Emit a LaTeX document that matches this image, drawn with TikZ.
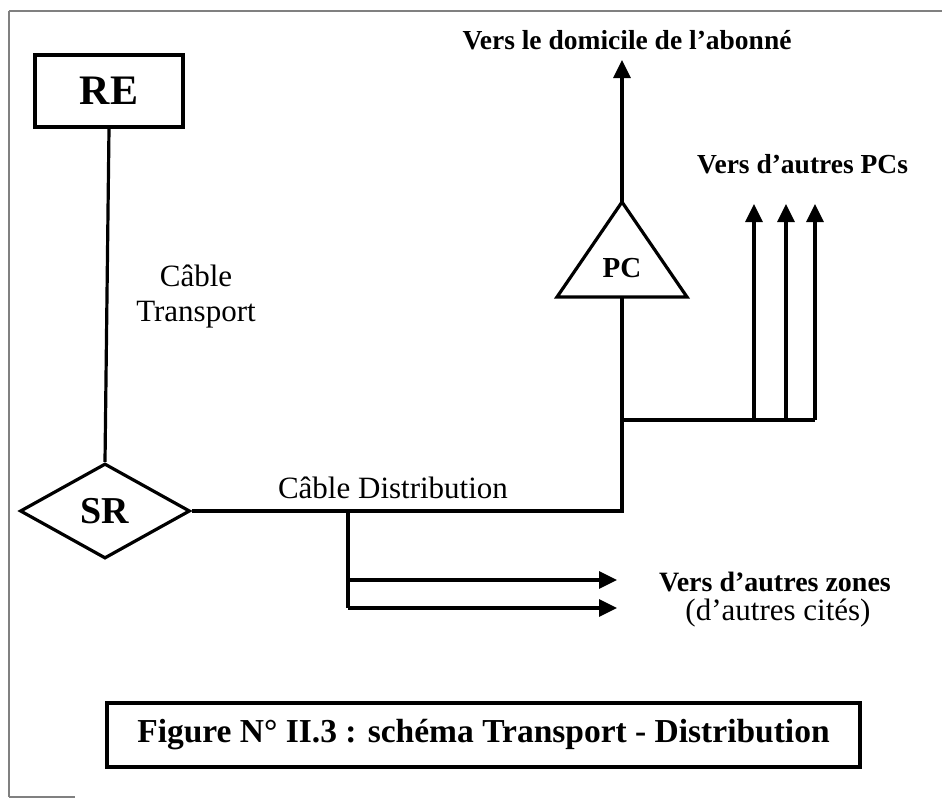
\documentclass[tikz,border=0pt]{standalone}
\usepackage{fontspec}
\setmainfont{Liberation Serif}
\usetikzlibrary{arrows.meta,shapes.geometric}
\newcommand{\fs}[1]{\fontsize{#1}{#1}\selectfont}
\tikzset{
  wire/.style={line width=3.2pt},
  arr/.style={wire,-{Triangle[length=18pt,width=17pt]}},
  frameln/.style={line width=1.3pt,black!50},
  boldlbl/.style={font=\fs{27.5}\bfseries,inner sep=0pt},
  reglbl/.style={font=\fs{31},inner sep=0pt},
}
\begin{document}
\begin{tikzpicture}[x=1pt,y=-1pt]
\useasboundingbox (0,0) rectangle (942,798);
% outer frame fragments
\draw[frameln] (9,11) -- (942,11);
\draw[frameln] (9,11) -- (9,797);
\draw[frameln] (9,797) -- (75,797);

% nodes
\node[draw,wire,rectangle,minimum width=148pt,minimum height=72pt,font=\fs{42}\bfseries] (re) at (109,91) {RE};
\node[draw,wire,diamond,minimum width=170pt,minimum height=95pt,inner sep=0pt,font=\fs{38}\bfseries] (sr) at (105,511) {SR};
\coordinate (pctop) at (622,202);
\coordinate (pcbot) at (622,297);
\coordinate (pcl) at (557,297);
\coordinate (pcr) at (687,297);
\draw[wire,line join=miter] (pcl) -- (pctop) -- (pcr) -- cycle;
\node[font=\fs{29}\bfseries,inner sep=0pt] (pc) at (622,268) {PC};

% junctions
\coordinate (jpc) at (622,513);
\coordinate (jbr) at (622,420);
\coordinate (a1) at (754,420);
\coordinate (a2) at (786,420);
\coordinate (a3) at (815,420);
\coordinate (t1) at (754,204);
\coordinate (t2) at (786,204);
\coordinate (t3) at (815,204);
\coordinate (dom) at (622,60);
\coordinate (jd) at (348,513);
\coordinate (jd1) at (348,580);
\coordinate (jd2) at (348,608);
\coordinate (z1) at (617,580);
\coordinate (z2) at (617,608);

% connectors
\draw[wire] (re.south) -- (sr.north);
\draw[wire] (sr.east) -- (sr.east -| jpc) -- (pcbot);
\draw[wire] (jbr) -- (a3);
\draw[arr] (a1) -- (t1);
\draw[arr] (a2) -- (t2);
\draw[arr] (a3) -- (t3);
\draw[arr] (pctop) -- (dom);
\draw[wire] (jd) -- (jd2);
\draw[arr] (jd1) -- (z1);
\draw[arr] (jd2) -- (z2);

% labels
\node[boldlbl] (ldom) at (627,40) {Vers le domicile de l’abonné};
\node[boldlbl,anchor=west] (lpcs) at (697,164) {Vers d’autres PCs};
\node[reglbl,align=center] (lct) at (196,297) {Câble\\[4pt]Transport};
\node[reglbl] (lcd) at (393,488) {Câble Distribution};
\node[font=\fs{28}\bfseries,inner sep=0pt] (lz1) at (775,582) {Vers d’autres zones};
\node[reglbl] (lz2) at (778,613) {(d’autres cités)};
\node[draw,wire,minimum width=753pt,minimum height=64pt,inner sep=0pt,font=\fs{33.5}\bfseries] (cap) at (483.5,735) {Figure N° II.3 : schéma Transport - Distribution};
\end{tikzpicture}
\end{document}
